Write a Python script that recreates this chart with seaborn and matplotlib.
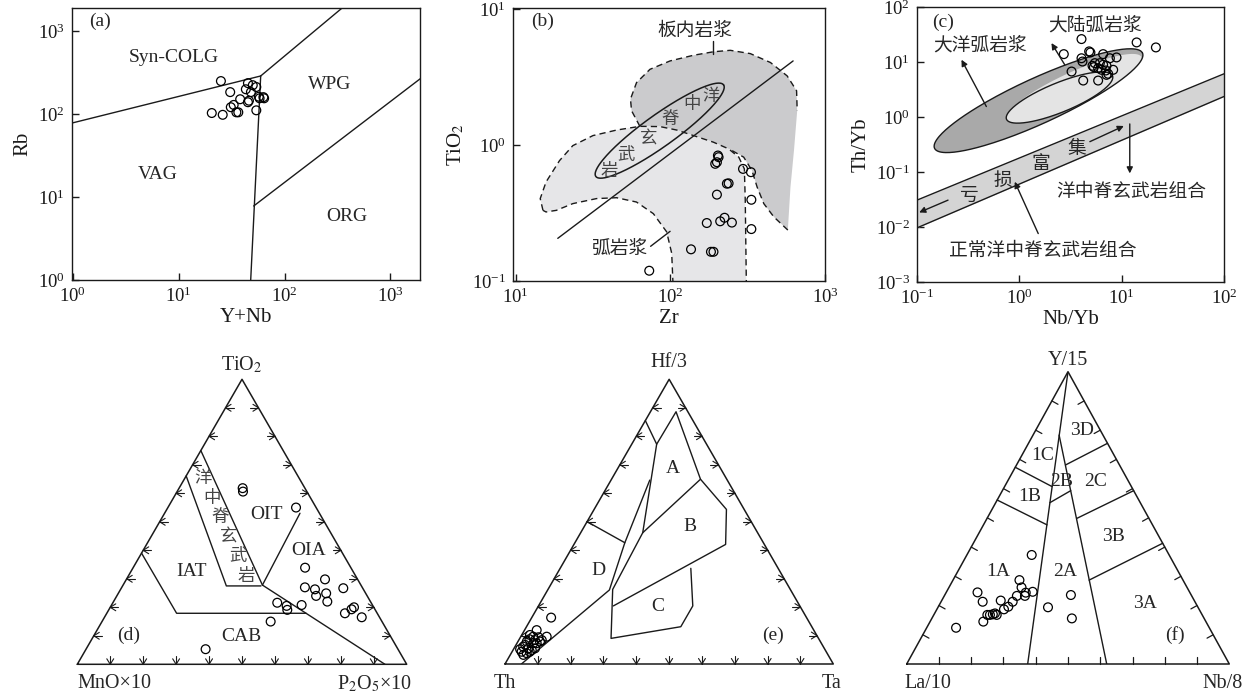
import math
import numpy as np
import matplotlib
matplotlib.use("Agg")
import matplotlib.pyplot as plt
import seaborn as sns

sns.set_theme(style="ticks")
plt.rcParams["font.family"] = ["Liberation Serif", "Noto Sans CJK SC", "DejaVu Sans"]
plt.rcParams["mathtext.fontset"] = "stix"
CJK = ["Noto Sans CJK SC", "DejaVu Sans"]

# ====================== DATA ======================
# (a) Rb vs Y+Nb (Pearce et al. 1984)
a_ynb = [25, 30.6, 45, 50, 54, 43, 48, 38, 45, 46, 58, 64, 63, 20.5, 26, 31, 33, 35, 36.5, 54, 57]
a_rb = [250, 184, 236, 223, 212, 199, 184, 151, 139, 145, 155, 155, 160, 103, 98, 121, 129, 105, 105, 111, 162]
a_line_vag_colg = ([0.98, 59.4], [78, 288])
a_line_colg_wpg = ([59.4, 349], [288, 1900])
a_line_vag_wpg = ([59.4, 47.8], [288, 1])
a_line_wpg_org = ([51, 2000], [7.8, 279])
a_fields = ["Syn-COLG", "WPG", "VAG", "ORG"]
a_field_x = [8.96, 268, 6.31, 389]
a_field_y = [486, 230, 18.9, 5.9]

# (b) TiO2 vs Zr
b_zr = [73, 136, 183, 190, 172, 210, 224, 250, 200, 232, 238, 195, 200, 205, 203, 295, 332, 334, 334]
b_tio2 = [0.119, 0.171, 0.164, 0.164, 0.267, 0.275, 0.292, 0.269, 0.432, 0.52, 0.523, 0.728, 0.748,
          0.815, 0.838, 0.668, 0.632, 0.396, 0.241]
b_arc_zr = [15.0, 14.4, 15.7, 19.2, 23.4, 31.6, 44.9, 63.5, 85.7, 110, 141, 190, 238, 277, 301, 305, 310,
            104, 102, 94.6, 77.6, 60.4, 44.9, 33.3, 23.4, 18.3, 15.7]
b_arc_ti = [0.331, 0.404, 0.535, 0.769, 0.991, 1.175, 1.29, 1.374, 1.368, 1.29, 1.175, 1.05, 0.938, 0.815,
            0.668, 0.392, 0.095, 0.095, 0.16, 0.23, 0.313, 0.381, 0.41, 0.404, 0.371, 0.331, 0.322]
b_wp_zr = [63.5, 56.1, 55.2, 60.4, 73.8, 99.5, 141, 190, 244, 329, 444, 569, 655, 661, 630, 598, 575,
           467, 402, 364, 337, 298, 250, 190, 141, 110, 85.7, 63.5]
b_wp_ti = [1.374, 1.79, 2.18, 2.88, 3.61, 4.16, 4.58, 4.86, 4.98, 4.71, 4.05, 3.23, 2.51, 1.79, 0.912,
           0.491, 0.237, 0.296, 0.371, 0.491, 0.65, 0.815, 0.912, 1.05, 1.175, 1.29, 1.368, 1.374]
b_morb_center = (85.3, 1.277)
b_morb_u = (0.413, 0.337)     # conjugate semi-diameters, log10 units
b_morb_v = (0.060, -0.094)
b_line = ([18.7, 622], [0.206, 4.16])
b_morb_chars = ["洋", "中", "脊", "玄", "武", "岩"]
b_morb_cx = [183, 138, 99.5, 72, 52, 40.5]
b_morb_cy = [2.31, 2.0, 1.56, 1.11, 0.851, 0.65]

# (c) Th/Yb vs Nb/Yb
c_nbyb = [4.05, 14.0, 21.6, 2.72, 4.81, 4.95, 4.05, 4.14, 6.59, 8.91, 5.47, 5.19, 5.35, 6.12, 6.59, 7.11,
          5.89, 6.35, 7.0, 8.26, 3.24, 4.21, 5.89, 7.11, 7.38, 7.67]
c_thyb = [26.1, 22.7, 18.4, 13.9, 15.6, 14.9, 11.7, 10.2, 13.9, 12.1, 9.53, 8.53, 8.06, 9.53, 8.89, 8.53,
          7.73, 7.21, 7.01, 7.21, 6.71, 4.60, 4.60, 5.84, 6.1, 11.7]
c_array_x = [0.1, 100]
c_array_upper = [0.0308, 6.1]
c_array_lower = [0.00964, 2.36]
c_ocean_center = (1.54, 1.98)
c_ocean_u = (1.016, 0.866)
c_ocean_v = (0.092, -0.375)
c_cont_center = (3.42, 3.34)
c_cont_u = (0.660, 0.565)
c_cont_v = (0.066, -0.262)
c_inner_center = (2.47, 2.26)
c_inner_u = (0.518, 0.395)
c_inner_v = (0.0542, -0.247)

# (d) TiO2 - MnO*10 - P2O5*10 (Mullen 1983)
d_tio2 = [0.618, 0.606, 0.550, 0.339, 0.298, 0.270, 0.263, 0.240, 0.249, 0.267, 0.220, 0.208, 0.216,
          0.205, 0.191, 0.179, 0.193, 0.200, 0.165, 0.150, 0.053]
d_mno = [0.189, 0.194, 0.061, 0.139, 0.099, 0.174, 0.147, 0.155, 0.120, 0.059, 0.131, 0.215, 0.285,
         0.262, 0.267, 0.098, 0.071, 0.060, 0.054, 0.338, 0.584]
d_p2o5 = [0.193, 0.200, 0.389, 0.522, 0.603, 0.556, 0.590, 0.605, 0.631, 0.674, 0.649, 0.577, 0.499,
          0.533, 0.542, 0.723, 0.736, 0.740, 0.781, 0.512, 0.363]
# boundary vertices as (TiO2, MnO, P2O5)
d_iat_cab = [(0.39, 0.61, 0.0), (0.179, 0.609, 0.212), (0.179, 0.216, 0.605)]
d_morb_left = [(0.661, 0.339, 0.0), (0.275, 0.41, 0.315), (0.275, 0.305, 0.42)]
d_morb_right = [(0.75, 0.25, 0.0), (0.278, 0.299, 0.423)]
d_cab_oia = [(0.278, 0.299, 0.423), (0.0, 0.066, 0.934)]
d_oit_oia = [(0.278, 0.299, 0.423), (0.530, 0.059, 0.411)]
d_fields = ["OIT", "OIA", "IAT", "CAB", "(d)"]
d_field_pos = [(0.524, 0.163, 0.313), (0.401, 0.098, 0.501), (0.325, 0.49, 0.185), (0.097, 0.453, 0.45),
               (0.103, 0.794, 0.103)]
d_morb_chars = ["洋", "中", "脊", "玄", "武", "岩"]
d_morb_pos = [(0.653, 0.291, 0.056), (0.583, 0.30, 0.117), (0.518, 0.308, 0.174), (0.450, 0.317, 0.233),
              (0.380, 0.321, 0.299), (0.310, 0.331, 0.359)]

# (e) Hf/3 - Th - Ta (Wood 1980)
e_hf = [0.163, 0.119, 0.102, 0.096, 0.094, 0.096, 0.084, 0.079, 0.073, 0.061, 0.055, 0.055, 0.049, 0.043,
        0.038, 0.032, 0.043, 0.073, 0.079, 0.067, 0.084, 0.087, 0.052]
e_th = [0.778, 0.844, 0.873, 0.866, 0.851, 0.825, 0.846, 0.894, 0.877, 0.914, 0.901, 0.881, 0.894, 0.928,
        0.915, 0.928, 0.903, 0.867, 0.854, 0.905, 0.867, 0.882, 0.928]
e_ta = [0.059, 0.037, 0.025, 0.038, 0.055, 0.079, 0.070, 0.027, 0.050, 0.025, 0.044, 0.064, 0.057, 0.029,
        0.047, 0.040, 0.054, 0.060, 0.067, 0.028, 0.049, 0.031, 0.020]
# vertices as (Hf/3, Th, Ta)
e_v = {
    "P1": (0.855, 0.145, 0.0), "P2": (0.772, 0.152, 0.076), "P3": (0.886, 0.036, 0.078),
    "P4": (0.649, 0.080, 0.271), "P5": (0.543, 0.054, 0.403), "P6": (0.420, 0.118, 0.462),
    "P7": (0.204, 0.568, 0.228), "P8": (0.336, 0.266, 0.398), "P9": (0.204, 0.326, 0.470),
    "P10": (0.131, 0.399, 0.470), "P11": (0.090, 0.632, 0.278), "P12": (0.262, 0.541, 0.197),
    "P13": (0.461, 0.350, 0.189), "P14": (0.50, 0.50, 0.0), "P15": (0.426, 0.422, 0.152),
    "P16": (0.260, 0.552, 0.188), "P17": (0.646, 0.236, 0.118), "P18": (0.0, 0.95, 0.05),
}
e_lines = [["P1", "P2", "P3", "P4", "P5", "P6", "P7"], ["P4", "P13"], ["P2", "P13", "P12", "P11", "P10", "P9", "P8"],
           ["P14", "P15"], ["P18", "P16", "P15", "P17"]]
e_fields = ["A", "B", "C", "D", "(e)"]
e_field_pos = [(0.687, 0.146, 0.167), (0.482, 0.195, 0.323), (0.201, 0.433, 0.366), (0.330, 0.551, 0.119),
               (0.102, 0.132, 0.766)]

# (f) Y/15 - La/10 - Nb/8 (Cabanis & Lecolle 1989)
f_y = [0.373, 0.287, 0.262, 0.247, 0.244, 0.245, 0.213, 0.217, 0.233, 0.213, 0.196, 0.187, 0.173, 0.170,
       0.168, 0.168, 0.168, 0.145, 0.124, 0.194, 0.236, 0.156, 0.233]
f_la = [0.426, 0.507, 0.513, 0.486, 0.509, 0.658, 0.658, 0.600, 0.542, 0.565, 0.587, 0.605, 0.640, 0.648,
        0.637, 0.658, 0.666, 0.690, 0.785, 0.465, 0.373, 0.410, 0.517]
f_nb = [0.201, 0.206, 0.225, 0.267, 0.247, 0.097, 0.129, 0.183, 0.225, 0.222, 0.217, 0.208, 0.187, 0.182,
        0.195, 0.174, 0.166, 0.165, 0.091, 0.341, 0.391, 0.434, 0.250]
# vertices as (Y/15, La/10, Nb/8)
f_lines = [
    [(1.0, 0.0, 0.0), (0.0, 0.625, 0.375)],
    [(0.783, 0.136, 0.081), (0.0, 0.380, 0.620)],
    [(0.673, 0.327, 0.0), (0.607, 0.246, 0.147)],
    [(0.561, 0.439, 0.0), (0.476, 0.327, 0.197)],
    [(0.552, 0.280, 0.168), (0.593, 0.195, 0.212)],
    [(0.681, 0.167, 0.152), (0.755, 0.0, 0.245)],
    [(0.498, 0.224, 0.278), (0.593, 0.0, 0.407)],
    [(0.287, 0.291, 0.422), (0.413, 0.0, 0.587)],
]
f_fields = ["3D", "1C", "2B", "2C", "1B", "3B", "1A", "2A", "3A", "(f)"]
f_field_pos = [(0.80, 0.058, 0.142), (0.712, 0.222, 0.066), (0.626, 0.207, 0.167), (0.624, 0.104, 0.272),
               (0.572, 0.332, 0.096), (0.436, 0.141, 0.423), (0.316, 0.558, 0.126), (0.316, 0.351, 0.333),
               (0.208, 0.157, 0.635), (0.099, 0.119, 0.782)]

# ====================== FIGURE ======================
W, H = 1257, 694
fig = plt.figure(figsize=(W / 100, H / 100), dpi=100)


def rect(l, t, r, b):
    return [l / W, 1 - b / H, (r - l) / W, (b - t) / H]


def circles(ax, x, y, s=40):
    sns.scatterplot(x=x, y=y, ax=ax, marker="o", s=s, facecolor="none", edgecolor="black",
                    linewidth=0.9, zorder=6, legend=False)


def log_axes(box):
    ax = fig.add_axes(rect(*box))
    ax.set_xscale("log")
    ax.set_yscale("log")
    return ax


def finish_log(ax, xlim, ylim, xticks, yticks, xlabel, ylabel, xlp=1, ylp=4):
    ax.set_xlim(xlim)
    ax.set_ylim(ylim)
    ax.set_xticks(xticks)
    ax.set_yticks(yticks)
    ax.minorticks_off()
    ax.tick_params(direction="in", length=5, width=1, labelsize=13.5, colors="k", pad=5)
    ax.set_xlabel(xlabel, fontsize=15, labelpad=xlp, color="k")
    ax.set_ylabel(ylabel, fontsize=15, labelpad=ylp, color="k")
    for s in ax.spines.values():
        s.set_linewidth(1.0)
        s.set_color("k")


def log_ellipse(center, u, v, n=240):
    t = np.linspace(0, 2 * np.pi, n)
    lx = np.log10(center[0]) + u[0] * np.cos(t) + v[0] * np.sin(t)
    ly = np.log10(center[1]) + u[1] * np.cos(t) + v[1] * np.sin(t)
    return 10 ** lx, 10 ** ly


DASH = (0, (4.5, 3))

# ---------- (a) ----------
ax = log_axes((72, 8, 420, 280))
for xs, ys in [a_line_vag_colg, a_line_colg_wpg, a_line_vag_wpg, a_line_wpg_org]:
    ax.plot(xs, ys, color="k", lw=1.0)
circles(ax, a_ynb, a_rb)
for lab, x, y in zip(a_fields, a_field_x, a_field_y):
    ax.text(x, y, lab, fontsize=14, ha="center", va="center")
ax.text(0.08, 0.95, "(a)", transform=ax.transAxes, fontsize=14, ha="center", va="center")
finish_log(ax, (0.98, 1900), (1, 1900), [1, 10, 100, 1000], [1, 10, 100, 1000], "Y+Nb", "Rb")

# ---------- (b) ----------
ax = log_axes((513, 8, 825, 281))
ax.fill(b_wp_zr, b_wp_ti, color="#cbcbcd", lw=0, zorder=1)
ax.fill(b_arc_zr, b_arc_ti, color="#e6e6e8", lw=0, zorder=2)
ax.plot(b_wp_zr[:14], b_wp_ti[:14], color="k", lw=1.0, ls=DASH, zorder=3)
ax.plot(b_wp_zr[16:23], b_wp_ti[16:23], color="k", lw=1.0, ls=DASH, zorder=3)
ax.plot(b_arc_zr[:17], b_arc_ti[:17], color="k", lw=1.0, ls=DASH, zorder=3)
ax.plot(b_arc_zr[17:] + [b_arc_zr[0]], b_arc_ti[17:] + [b_arc_ti[0]], color="k", lw=1.0, ls=DASH, zorder=3)
ex, ey = log_ellipse(b_morb_center, b_morb_u, b_morb_v)
ax.plot(ex, ey, color="k", lw=1.1, zorder=4)
ax.plot(*b_line, color="k", lw=1.0, zorder=4)
circles(ax, b_zr, b_tio2)
for ch, x, y in zip(b_morb_chars, b_morb_cx, b_morb_cy):
    ax.text(x, y, ch, family=CJK, fontsize=12.5, color="#444444", ha="center", va="center", zorder=5)
ax.text(145, 6.98, "板内岩浆", family=CJK, fontsize=13.5, ha="center", va="center")
ax.plot([188, 188], [5.83, 4.66], color="k", lw=1.0)
ax.text(47.1, 0.173, "弧岩浆", family=CJK, fontsize=13.5, ha="center", va="center")
ax.plot([74.5, 99.6], [0.180, 0.232], color="k", lw=1.0)
ax.text(15, 8.07, "(b)", fontsize=14, ha="center", va="center")
finish_log(ax, (9.6, 1000), (0.1, 10.2), [10, 100, 1000], [0.1, 1, 10], "Zr", "TiO$_2$")

# ---------- (c) ----------
ax = log_axes((917, 7, 1224, 282))
ax.fill_between(c_array_x, c_array_lower, c_array_upper, color="#d4d4d4", lw=0, zorder=1)
ax.plot(c_array_x, c_array_upper, color="k", lw=1.0, zorder=2)
ax.plot(c_array_x, c_array_lower, color="k", lw=1.0, zorder=2)
ox, oy = log_ellipse(c_ocean_center, c_ocean_u, c_ocean_v)
outer = ax.fill(ox, oy, color="#a9a9a9", lw=0, zorder=2)[0]
ex, ey = log_ellipse(c_cont_center, c_cont_u, c_cont_v)
cont = ax.fill(ex, ey, color="#e4e4e4", lw=0, zorder=3)[0]
cont.set_clip_path(outer)
ex, ey = log_ellipse(c_inner_center, c_inner_u, c_inner_v)
ax.fill(ex, ey, color="#e4e4e4", lw=0, zorder=3)
ax.plot(ex, ey, color="k", lw=1.0, zorder=4)
ax.plot(ox, oy, color="k", lw=1.0, zorder=4)
circles(ax, c_nbyb, c_thyb)
arrows = [((0.201, 0.0308), (0.105, 0.0184)), ((4.89, 0.356), (10.5, 0.687)),
          ((12.0, 0.748), (12.0, 0.0942)), ((1.53, 0.0076), (0.902, 0.0665)),
          ((0.476, 1.55), (0.272, 11.0)), ((2.78, 8.89), (2.06, 22.1))]
for tail, head in arrows:
    ax.annotate("", xy=head, xytext=tail,
                arrowprops=dict(arrowstyle="-|>", color="k", lw=1.0, mutation_scale=9, shrinkA=0, shrinkB=0),
                zorder=7)
ctexts = [("大陆弧岩浆", 5.47, 47.7), ("大洋弧岩浆", 0.41, 20.6), ("亏", 0.327, 0.038), ("损", 0.693, 0.0713),
          ("富", 1.64, 0.1435), ("集", 3.62, 0.269), ("洋中脊玄武岩组合", 12.5, 0.0436),
          ("正常洋中脊玄武岩组合", 1.71, 0.00378)]
for s, x, y in ctexts:
    ax.text(x, y, s, family=CJK, fontsize=13.5, ha="center", va="center", zorder=8)
ax.text(0.179, 52.5, "(c)", fontsize=14, ha="center", va="center")
finish_log(ax, (0.1, 100), (0.001, 100), [0.1, 1, 10, 100], [0.001, 0.01, 0.1, 1, 10, 100],
           "Nb/Yb", "Th/Yb")


# ---------- ternary helpers ----------
def tern(top, left, right):
    top, left, right = (np.asarray(v, dtype=float) for v in (top, left, right))
    s = top + left + right
    t = top / s
    r = right / s
    return r + t / 2, t


def tern_pts(triples):
    arr = np.asarray(triples, dtype=float)
    return tern(arr[:, 0], arr[:, 1], arr[:, 2])


def tern_axes(box):
    l, t, r, b = box
    ax = fig.add_axes(rect(*box))
    ax.set_xlim(0, 1)
    ax.set_ylim(0, 1)
    ax.axis("off")
    ax.plot([0, 1, 0.5, 0], [0, 0, 1, 0], color="k", lw=1.1, clip_on=False, zorder=3)
    return ax, r - l, b - t


def arrow_ticks(ax, wpx, hpx, arm=6.5, ang=32):
    for i in range(1, 10):
        f = i / 10
        for (px, py), d in [((f, 0.0), (0, 1)), ((f / 2, f), (1, 0)), ((1 - f / 2, f), (-1, 0))]:
            ax.plot([px, px + d[0] * 8 / wpx], [py, py + d[1] * 8 / hpx], color="k", lw=0.8, clip_on=False)
            for sg in (1, -1):
                a = math.radians(sg * ang)
                dx = d[0] * math.cos(a) - d[1] * math.sin(a)
                dy = d[0] * math.sin(a) + d[1] * math.cos(a)
                ax.plot([px, px + dx * arm / wpx], [py, py + dy * arm / hpx], color="k", lw=0.8, clip_on=False)


def perp_ticks(ax, wpx, hpx, ln=7):
    nl = np.array([hpx, -0.5 * wpx]); nl /= np.linalg.norm(nl)
    nr = np.array([-hpx, -0.5 * wpx]); nr /= np.linalg.norm(nr)
    for i in range(1, 10):
        f = i / 10
        for (px, py), d in [((f, 0.0), (0, 1)), ((f / 2, f), nl), ((1 - f / 2, f), nr)]:
            ax.plot([px, px + d[0] * ln / wpx], [py, py + d[1] * ln / hpx], color="k", lw=0.9, clip_on=False)


# ---------- (d) ----------
ax, wpx, hpx = tern_axes((77.3, 379.3, 406.7, 664.3))
arrow_ticks(ax, wpx, hpx)
for seg in [d_iat_cab, d_morb_left, d_morb_right, d_cab_oia, d_oit_oia]:
    ax.plot(*tern_pts(seg), color="k", lw=1.0)
x, y = tern(d_tio2, d_mno, d_p2o5)
circles(ax, x, y)
for lab, p in zip(d_fields, d_field_pos):
    ax.text(*tern(*p), lab, fontsize=14, ha="center", va="center")
for ch, p in zip(d_morb_chars, d_morb_pos):
    ax.text(*tern(*p), ch, family=CJK, fontsize=12.5, color="#444444", ha="center", va="center")
ax.text(0.5, 1.05, "TiO$_2$", fontsize=14.5, ha="center", va="center")
ax.text(0.114, -0.068, "MnO×10", fontsize=14.5, ha="center", va="center")
ax.text(0.903, -0.068, "P$_2$O$_5$×10", fontsize=14.5, ha="center", va="center")
ax.set_xlim(0, 1); ax.set_ylim(0, 1)

# ---------- (e) ----------
ax, wpx, hpx = tern_axes((505, 379.3, 833.3, 664))
arrow_ticks(ax, wpx, hpx)
for ln in e_lines:
    ax.plot(*tern_pts([e_v[k] for k in ln]), color="k", lw=1.0)
x, y = tern(e_hf, e_th, e_ta)
circles(ax, x, y)
for lab, p in zip(e_fields, e_field_pos):
    ax.text(*tern(*p), lab, fontsize=14, ha="center", va="center")
ax.text(0.5, 1.06, "Hf/3", fontsize=14.5, ha="center", va="center")
ax.text(0.0, -0.068, "Th", fontsize=14.5, ha="center", va="center")
ax.text(0.995, -0.068, "Ta", fontsize=14.5, ha="center", va="center")
ax.set_xlim(0, 1); ax.set_ylim(0, 1)

# ---------- (f) ----------
ax, wpx, hpx = tern_axes((906.7, 371.7, 1229.3, 664))
perp_ticks(ax, wpx, hpx)
for seg in f_lines:
    ax.plot(*tern_pts(seg), color="k", lw=1.0)
x, y = tern(f_y, f_la, f_nb)
circles(ax, x, y)
for lab, p in zip(f_fields, f_field_pos):
    ax.text(*tern(*p), lab, fontsize=14, ha="center", va="center")
ax.text(0.5, 1.04, "Y/15", fontsize=14.5, ha="center", va="center")
ax.text(0.066, -0.066, "La/10", fontsize=14.5, ha="center", va="center")
ax.text(0.98, -0.066, "Nb/8", fontsize=14.5, ha="center", va="center")
ax.set_xlim(0, 1); ax.set_ylim(0, 1)

fig.savefig("out.png", dpi=100)
